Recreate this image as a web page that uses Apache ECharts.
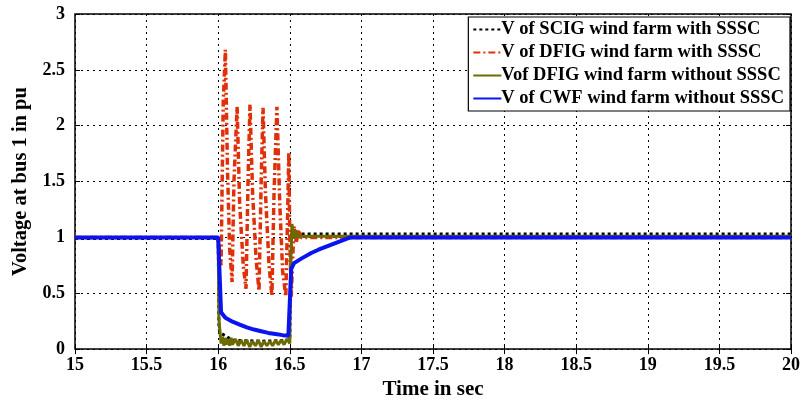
<!DOCTYPE html>
<html>
<head>
<meta charset="utf-8">
<script src="https://cdn.jsdelivr.net/npm/echarts@6/dist/echarts.min.js"></script>
<style>
  html, body { margin: 0; padding: 0; background: #fff; }
  #chart { width: 803px; height: 405px; }
</style>
</head>
<body>
<div id="chart"></div>
<script>
// legend names
const names = [
  'V of SCIG wind farm with SSSC',
  'V of DFIG wind farm with SSSC',
  'Vof DFIG wind farm without SSSC',
  'V of CWF wind farm without SSSC'
]

// black dotted: SCIG with SSSC
const scigT = [15, 16, 16.005, 16.01, 16.1, 16.3, 16.5, 16.51, 20]
const scigV = [0.99, 0.99, 0.2, 0.15, 0.08, 0.07, 0.08, 1.03, 1.03]

// red dash-dot: DFIG with SSSC
const dfigT = [15, 16.0, 16.02, 16.035, 16.05, 16.065, 16.08, 16.097, 16.11, 16.132, 16.15, 16.175, 16.194,
  16.21, 16.222, 16.24, 16.265, 16.285, 16.30, 16.313, 16.33, 16.355, 16.375, 16.39, 16.41, 16.43, 16.45,
  16.472, 16.485, 16.493, 16.50, 16.51, 16.52, 16.53, 16.545, 16.56, 16.58, 16.6, 20]
const dfigV = [1.0, 1.0, 0.75, 2.2, 2.68, 1.6, 0.9, 0.6, 1.5, 2.17, 1.3, 0.75, 0.54,
  1.6, 2.19, 1.4, 0.8, 0.52, 1.5, 2.16, 1.4, 0.75, 0.48, 1.4, 2.17, 1.3, 0.7,
  0.47, 1.2, 1.76, 1.0, 0.47, 0.8, 1.1, 0.95, 1.07, 1.0, 1.0, 1.0]

// olive: DFIG without SSSC
const oliveT = [15, 16.0, 16.005, 16.015, 16.02, 16.03, 16.04, 16.05, 16.06, 16.07, 16.08, 16.09, 16.1,
  16.12, 16.14, 16.16, 16.18, 16.2, 16.22, 16.24, 16.26, 16.28, 16.3, 16.32, 16.34, 16.36, 16.38, 16.4,
  16.42, 16.44, 16.46, 16.48, 16.5, 16.505, 16.515, 16.53, 16.545, 16.56, 16.58, 20]
const oliveV = [1.0, 1.0, 0.27, 0.12, 0.05, 0.11, 0.03, 0.1, 0.04, 0.09, 0.03, 0.1, 0.04,
  0.09, 0.03, 0.08, 0.03, 0.08, 0.02, 0.07, 0.03, 0.08, 0.02, 0.07, 0.03, 0.07, 0.03, 0.08,
  0.04, 0.08, 0.04, 0.09, 0.05, 0.7, 1.12, 0.99, 1.06, 1.0, 1.01, 1.01]

// blue: CWF without SSSC
const cwfT = [15, 16.0, 16.02, 16.05, 16.1, 16.15, 16.2, 16.25, 16.3, 16.35, 16.4, 16.45, 16.49,
  16.51, 16.53, 16.58, 16.65, 16.7, 16.8, 16.9, 16.93, 20]
const cwfV = [1.0, 1.0, 0.33, 0.28, 0.245, 0.22, 0.195, 0.175, 0.16, 0.145, 0.135, 0.125, 0.12,
  0.72, 0.77, 0.81, 0.86, 0.89, 0.94, 0.99, 1.0, 1.0]

const xTicks = [15, 15.5, 16, 16.5, 17, 17.5, 18, 18.5, 19, 19.5, 20]
const yTicks = [0, 0.5, 1, 1.5, 2, 2.5, 3]

const zip = (t, v) => t.map((x, i) => [x, v[i]])

const font = 'Liberation Serif'
const chart = echarts.init(document.getElementById('chart'))

const baseX = {
  type: 'value',
  min: 15,
  max: 20,
  interval: 0.5,
  axisLine: { show: false },
  axisTick: { show: true, inside: true, length: 5, lineStyle: { color: '#000' } }
}
const baseY = {
  type: 'value',
  min: 0,
  max: 3,
  interval: 0.5,
  axisLine: { show: false },
  axisTick: { show: true, inside: true, length: 5, lineStyle: { color: '#000' } }
}

const option = {
  animation: false,
  backgroundColor: '#fff',
  grid: {
    left: 75, right: 8, top: 14, bottom: 55,
    show: true, borderColor: '#000', borderWidth: 1.5, backgroundColor: 'transparent'
  },
  legend: {
    data: names,
    orient: 'vertical',
    right: 13,
    top: 17,
    itemWidth: 28,
    itemHeight: 4,
    itemGap: 4,
    padding: [3, 6, 3, 4],
    backgroundColor: '#fff',
    borderColor: '#000',
    borderWidth: 1.2,
    itemStyle: { opacity: 0 },
    textStyle: { fontFamily: font, fontWeight: 'bold', fontSize: 18.5, color: '#000', padding: [0, 0, 0, -5] }
  },
  xAxis: [
    Object.assign({}, baseX, {
      position: 'bottom',
      name: 'Time in sec',
      nameLocation: 'middle',
      nameGap: 29,
      nameTextStyle: { fontFamily: font, fontWeight: 'bold', fontSize: 21, color: '#000' },
      axisLabel: {
        fontFamily: font, fontWeight: 'bold', fontSize: 18, color: '#000', margin: 7,
        formatter: v => xTicks.includes(v) ? String(v) : ''
      },
      splitLine: { show: true, lineStyle: { color: '#000', width: 1, type: [2, 4] } }
    }),
    Object.assign({}, baseX, {
      position: 'top',
      axisLabel: { show: false },
      splitLine: { show: false }
    })
  ],
  yAxis: [
    Object.assign({}, baseY, {
      position: 'left',
      name: 'Voltage at bus 1 in pu',
      nameLocation: 'middle',
      nameGap: 42,
      nameTextStyle: { fontFamily: font, fontWeight: 'bold', fontSize: 20.5, color: '#000' },
      axisLabel: {
        fontFamily: font, fontWeight: 'bold', fontSize: 18, color: '#000', margin: 10,
        formatter: v => yTicks.includes(v) ? String(v) : ''
      },
      splitLine: { show: true, lineStyle: { color: '#000', width: 1, type: [2, 4] } }
    }),
    Object.assign({}, baseY, {
      position: 'right',
      axisLabel: { show: false },
      splitLine: { show: false }
    })
  ],
  series: [
    {
      name: names[0], type: 'line', symbol: 'none', data: zip(scigT, scigV),
      lineStyle: { color: '#000', width: 3, type: [3, 3] }, itemStyle: { color: '#000' }
    },
    {
      name: names[1], type: 'line', symbol: 'none', data: zip(dfigT, dfigV),
      lineStyle: { color: '#e0300a', width: 3.5, type: [7, 3, 2, 3] }, itemStyle: { color: '#e0300a' }
    },
    {
      name: names[2], type: 'line', symbol: 'none', data: zip(oliveT, oliveV),
      lineStyle: { color: '#6b6b00', width: 3 }, itemStyle: { color: '#6b6b00' }
    },
    {
      name: names[3], type: 'line', symbol: 'none', data: zip(cwfT, cwfV),
      lineStyle: { color: '#0a14f0', width: 4 }, itemStyle: { color: '#0a14f0' }
    }
  ]
}

chart.setOption(option)
</script>
</body>
</html>
